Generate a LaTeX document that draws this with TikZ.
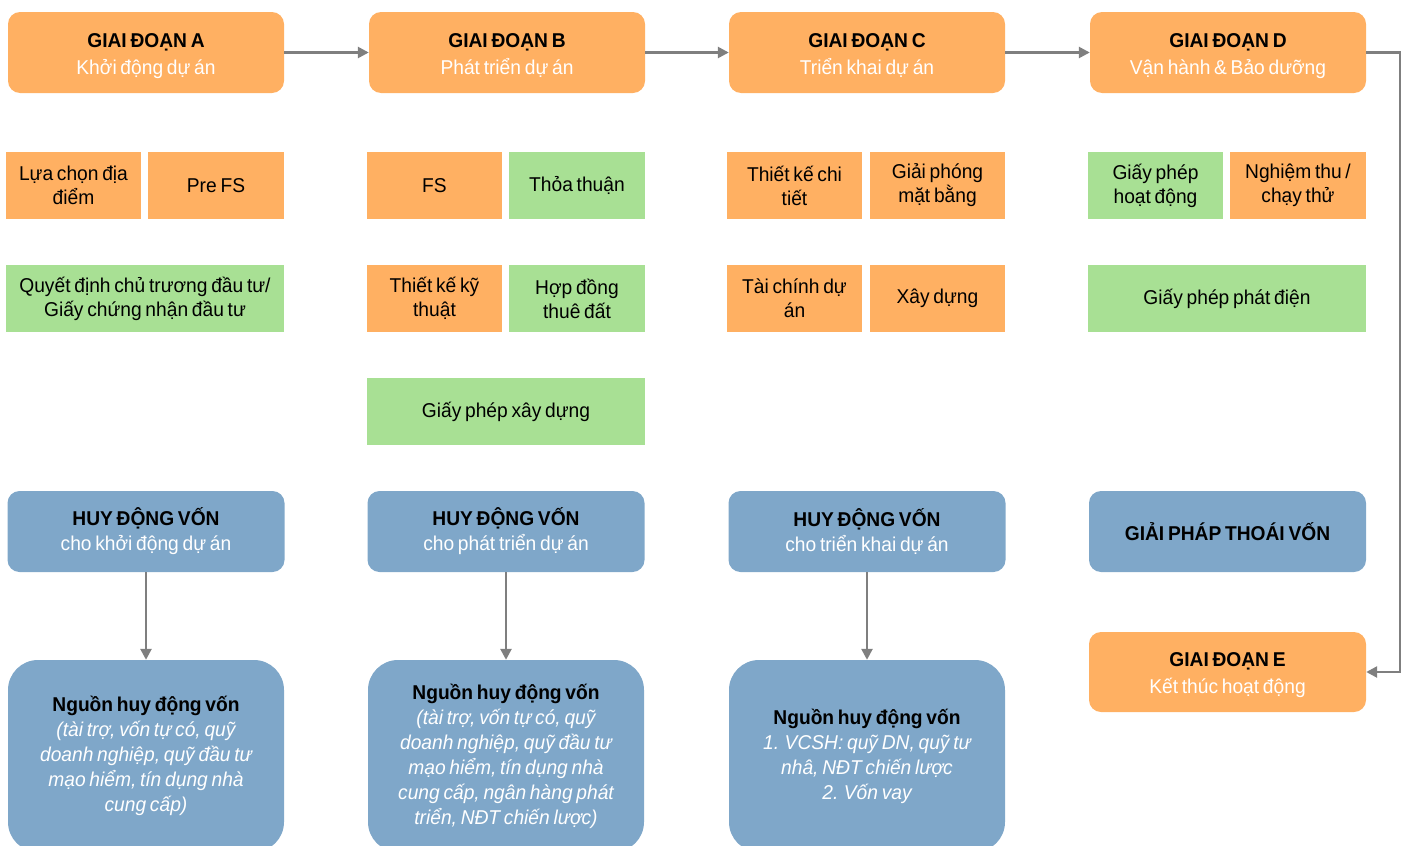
\documentclass[tikz,border=0pt]{standalone}
\usepackage{fontspec}
\setmainfont[FakeStretch=0.96,WordSpace=0.7]{Liberation Sans}
\usetikzlibrary{arrows.meta}
\definecolor{orgc}{HTML}{FFB062}
\definecolor{grnc}{HTML}{A8E094}
\definecolor{bluc}{HTML}{7FA7C9}
\definecolor{arrc}{HTML}{7F7F7F}
\newcommand\stagetxt[2]{\rule{0pt}{21pt}\textbf{#1}\\\textcolor{white}{#2}}
\begin{document}
\begin{tikzpicture}[x=1pt,y=-1pt,
  every node/.style={font=\fontsize{20}{25}\selectfont, align=center, inner sep=0pt},
  stage/.style={fill=orgc, rounded corners=12pt, minimum width=276pt, minimum height=81pt, font=\fontsize{20}{27}\selectfont},
  fund/.style={fill=bluc, rounded corners=12pt, minimum width=277pt, minimum height=81pt},
  srcbox/.style={fill=bluc, rounded corners=30pt, minimum width=276pt, minimum height=192pt},
  obox/.style={fill=orgc, minimum height=67pt, minimum width=135pt, font=\fontsize{20}{24}\selectfont},
  gbox/.style={fill=grnc, minimum height=67pt, minimum width=135pt, font=\fontsize{20}{24}\selectfont},
  conn/.style={draw=arrc, line width=2.5pt, -{Triangle[length=11pt,width=11pt]}}
]
\useasboundingbox (0,0) rectangle (1428,846);
\clip (0,0) rectangle (1428,846);
% stages
\node[stage] (A) at (146,52.5) {\stagetxt{GIAI ĐOẠN A}{Khởi động dự án}};
\node[stage] (B) at (507,52.5) {\stagetxt{GIAI ĐOẠN B}{Phát triển dự án}};
\node[stage] (C) at (867,52.5) {\stagetxt{GIAI ĐOẠN C}{Triển khai dự án}};
\node[stage] (D) at (1228,52.5) {\stagetxt{GIAI ĐOẠN D}{Vận hành \& Bảo dưỡng}};
\node[stage, minimum width=277pt, minimum height=80pt] (E) at (1227.5,672) {\stagetxt{GIAI ĐOẠN E}{Kết thúc hoạt động}};
% row 2
\node[obox] (a1) at (73.5,185.5) {Lựa chọn địa\\điểm};
\node[obox, minimum width=136pt] (a2) at (216,185.5) {Pre FS};
\node[obox] (b1) at (434.5,185.5) {FS};
\node[gbox, minimum width=136pt] (b2) at (577,185.5) {Thỏa thuận};
\node[obox] (c1) at (794.5,185.5) {Thiết kế chi\\tiết};
\node[obox] (c2) at (937.5,185.5) {Giải phóng\\mặt bằng};
\node[gbox] (d1) at (1155.5,185.5) {Giấy phép\\hoạt động};
\node[obox, minimum width=136pt] (d2) at (1298,185.5) {Nghiệm thu /\\chạy thử};
% row 3
\node[gbox, minimum width=278pt] (a3) at (145,298.5) {Quyết định chủ trương đầu tư/\\Giấy chứng nhận đầu tư};
\node[obox] (b3) at (434.5,298.5) {Thiết kế kỹ\\thuật};
\node[gbox, minimum width=136pt] (b4) at (577,298.5) {Hợp đồng\\thuê đất};
\node[obox] (c3) at (794.5,298.5) {Tài chính dự\\án};
\node[obox] (c4) at (937.5,298.5) {Xây dựng};
\node[gbox, minimum width=278pt] (d3) at (1227,298.5) {Giấy phép phát điện};
% row 4
\node[gbox, minimum width=278pt] (b5) at (506,411.5) {Giấy phép xây dựng};
% funding
\node[fund] (fa) at (146,531.5) {\textbf{HUY ĐỘNG VỐN}\\\textcolor{white}{cho khởi động dự án}};
\node[fund] (fb) at (506,531.5) {\textbf{HUY ĐỘNG VỐN}\\\textcolor{white}{cho phát triển dự án}};
\node[fund] (fc) at (867,531.5) {\textbf{HUY ĐỘNG VỐN}\\\textcolor{white}{cho triển khai dự án}};
\node[fund] (fd) at (1227.5,531.5) {\textbf{GIẢI PHÁP THOÁI VỐN}};
% sources
\node[srcbox] (sa) at (146,756) {\textbf{Nguồn huy động vốn}\\\textcolor{white}{\itshape (tài trợ, vốn tự có, quỹ}\\\textcolor{white}{\itshape doanh nghiệp, quỹ đầu tư}\\\textcolor{white}{\itshape mạo hiểm, tín dụng nhà}\\\textcolor{white}{\itshape cung cấp)}};
\node[srcbox] (sb) at (506,756) {\textbf{Nguồn huy động vốn}\\\textcolor{white}{\itshape (tài trợ, vốn tự có, quỹ}\\\textcolor{white}{\itshape doanh nghiệp, quỹ đầu tư}\\\textcolor{white}{\itshape mạo hiểm, tín dụng nhà}\\\textcolor{white}{\itshape cung cấp, ngân hàng phát}\\\textcolor{white}{\itshape triển, NĐT chiến lược)}};
\node[srcbox] (sc) at (867,756) {\textbf{Nguồn huy động vốn}\\\textcolor{white}{\itshape 1. VCSH: quỹ DN, quỹ tư}\\\textcolor{white}{\itshape nhâ, NĐT chiến lược}\\\textcolor{white}{\itshape 2. Vốn vay}};
% connectors
\draw[conn] (A.east) -- (B.west);
\draw[conn] (B.east) -- (C.west);
\draw[conn] (C.east) -- (D.west);
\coordinate (k1) at (1400,52.5);
\coordinate (k2) at (1400,672);
\draw[conn] (D.east) -- (k1) -- (k2) -- (E.east);
\draw[conn] (fa.south) -- (sa.north);
\draw[conn] (fb.south) -- (sb.north);
\draw[conn] (fc.south) -- (sc.north);
\end{tikzpicture}
\end{document}
